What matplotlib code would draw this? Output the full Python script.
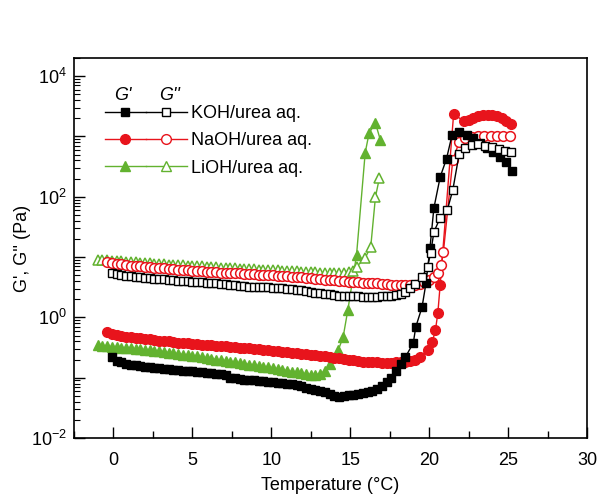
import matplotlib
matplotlib.use('Agg')
import matplotlib.pyplot as plt
from matplotlib.lines import Line2D
from matplotlib.legend_handler import HandlerTuple
from matplotlib.ticker import LogLocator, NullFormatter

plt.rcParams['font.family'] = ['Liberation Sans', 'DejaVu Sans']
plt.rcParams['mathtext.fontset'] = 'custom'
plt.rcParams['mathtext.rm'] = 'Liberation Sans'
plt.rcParams['mathtext.it'] = 'Liberation Sans:italic'

# temperature grid of the slow scan part (deg C), shared by all series
temp_scan = [-1.0, -0.7, -0.4, -0.1, 0.2, 0.5, 0.8, 1.1, 1.4, 1.7, 2.0, 2.3, 2.6, 2.9,
             3.2, 3.5, 3.8, 4.1, 4.4, 4.7, 5.0, 5.3, 5.6, 5.9, 6.2, 6.5, 6.8, 7.1,
             7.4, 7.7, 8.0, 8.3, 8.6, 8.9, 9.2, 9.5, 9.8, 10.1, 10.4, 10.7, 11.0,
             11.3, 11.6, 11.9, 12.2, 12.5, 12.8, 13.1, 13.4, 13.7, 14.0, 14.3, 14.6,
             14.9, 15.2, 15.5, 15.8, 16.1, 16.4, 16.7, 17.0, 17.3, 17.6, 17.9, 18.2,
             18.5, 18.8, 19.1, 19.4, 19.7, 20.0]

# KOH/urea
koh_g1_flat = [0.22, 0.19, 0.18, 0.17, 0.165, 0.16, 0.155, 0.15, 0.15,
               0.145, 0.145, 0.14, 0.14, 0.135, 0.135, 0.13,
               0.13, 0.13, 0.125, 0.125, 0.12, 0.12, 0.115,
               0.115, 0.11, 0.10, 0.098, 0.095, 0.093, 0.091,
               0.09, 0.088, 0.087, 0.085, 0.084, 0.082, 0.081,
               0.08, 0.079, 0.077, 0.072, 0.068, 0.066, 0.063,
               0.06, 0.057, 0.054, 0.05, 0.047, 0.049, 0.051,
               0.052, 0.053, 0.055, 0.057, 0.06, 0.065, 0.072,
               0.085, 0.10, 0.13, 0.17, 0.22]
koh_g1_rise_t = [19.0, 19.15, 19.55, 19.8, 20.05, 20.3, 20.7, 21.1, 21.45, 21.9,
                 22.4, 22.75, 23.2, 23.65, 24.05, 24.5, 24.9, 25.25]
koh_g1_rise = [0.38, 0.69, 1.48, 3.7, 14, 65, 213, 427, 1050, 1170,
               1050, 960, 780, 650, 550, 460, 380, 270]

koh_g2_flat = [5.5, 5.2, 5.0, 4.9, 4.8, 4.7, 4.6, 4.55, 4.5,
               4.4, 4.35, 4.3, 4.2, 4.1, 4.05, 4.0,
               3.95, 3.9, 3.85, 3.8, 3.75, 3.7, 3.65,
               3.6, 3.55, 3.5, 3.4, 3.35, 3.3, 3.25,
               3.2, 3.2, 3.15, 3.15, 3.1, 3.1, 3.05,
               3.0, 2.95, 2.9, 2.8, 2.7, 2.6, 2.55,
               2.5, 2.45, 2.4, 2.35, 2.3, 2.3, 2.3,
               2.25, 2.25, 2.2, 2.2, 2.2, 2.2, 2.25,
               2.25, 2.3, 2.35, 2.45]
koh_g2_rise_t = [18.5, 18.8, 19.1, 19.55, 19.9, 20.1, 20.3, 20.7, 21.15, 21.5,
                 21.9, 22.3, 22.7, 23.1, 23.55, 24.0, 24.4, 24.8, 25.2]
koh_g2_rise = [2.64, 3.1, 3.6, 4.7, 6.9, 11.8, 26, 45, 60, 130,
               510, 650, 730, 760, 690, 670, 620, 570, 550]

# NaOH/urea
naoh_g1_flat = [0.57, 0.53, 0.51, 0.49, 0.48, 0.47,
                0.46, 0.45, 0.44, 0.43, 0.42, 0.41, 0.405,
                0.40, 0.39, 0.38, 0.375, 0.37, 0.365, 0.36,
                0.355, 0.35, 0.345, 0.34, 0.335, 0.33, 0.325,
                0.32, 0.315, 0.31, 0.305, 0.30, 0.295, 0.29,
                0.285, 0.28, 0.275, 0.27, 0.265, 0.26, 0.255,
                0.25, 0.245, 0.24, 0.235, 0.23, 0.225, 0.22,
                0.215, 0.21, 0.205, 0.2, 0.195, 0.19, 0.185,
                0.183, 0.18, 0.18, 0.178, 0.178, 0.178, 0.18,
                0.18, 0.185, 0.19, 0.2, 0.22]
naoh_g1_rise_t = [19.9, 20.2, 20.4, 20.55, 20.7, 21.55, 22.2, 22.5, 22.8, 23.1,
                  23.4, 23.7, 24.0, 24.3, 24.6, 24.9, 25.2]
naoh_g1_rise = [0.29, 0.39, 0.62, 1.17, 3.5, 2340, 1800, 1900, 2050, 2150,
                2250, 2280, 2250, 2150, 2000, 1800, 1600]

naoh_g2_flat = [8.3, 8.0, 7.8, 7.6, 7.4, 7.25, 7.1,
                7.0, 6.9, 6.8, 6.7, 6.6, 6.5, 6.4,
                6.3, 6.2, 6.1, 6.0, 5.95, 5.9, 5.8,
                5.75, 5.7, 5.6, 5.55, 5.5, 5.45, 5.4,
                5.35, 5.3, 5.25, 5.2, 5.1, 5.05, 5.0,
                4.95, 4.9, 4.85, 4.8, 4.7, 4.65, 4.6,
                4.55, 4.5, 4.4, 4.3, 4.2, 4.15, 4.1,
                4.0, 3.95, 3.9, 3.85, 3.8, 3.75, 3.7,
                3.7, 3.65, 3.6, 3.55, 3.5, 3.5, 3.5,
                3.45, 3.45, 3.5, 3.6, 3.8, 4.1]
naoh_g2_rise_t = [20.3, 20.55, 20.75, 20.9, 21.5, 21.9, 22.3, 22.7, 23.1, 23.5,
                  23.9, 24.3, 24.7, 25.1]
naoh_g2_rise = [4.7, 5.5, 7.4, 12, 410, 800, 960, 990, 1000, 1000,
                1000, 1000, 1000, 1000]

# LiOH/urea
lioh_g1_flat = [0.35, 0.34, 0.33, 0.325, 0.32, 0.315, 0.31,
                0.305, 0.3, 0.295, 0.29, 0.285, 0.28, 0.275,
                0.27, 0.26, 0.255, 0.25, 0.24, 0.235, 0.23,
                0.225, 0.22, 0.21, 0.205, 0.2, 0.195, 0.19,
                0.185, 0.18, 0.175, 0.17, 0.165, 0.16, 0.155,
                0.152, 0.148, 0.145, 0.14, 0.135, 0.13, 0.126,
                0.122, 0.118, 0.115, 0.113, 0.112, 0.115, 0.13]
lioh_g1_rise_t = [13.75, 14.25, 14.55, 14.85, 15.4, 15.95, 16.2, 16.6, 16.9]
lioh_g1_rise = [0.17, 0.29, 0.47, 1.33, 10.8, 540, 1150, 1660, 890]

lioh_g2_flat = [9.0, 8.9, 8.8, 8.7, 8.6, 8.5, 8.4,
                8.3, 8.2, 8.1, 8.0, 7.9, 7.8, 7.7,
                7.6, 7.5, 7.45, 7.4, 7.3, 7.2, 7.15,
                7.1, 7.0, 6.9, 6.85, 6.8, 6.7, 6.6,
                6.55, 6.5, 6.45, 6.4, 6.3, 6.25, 6.2,
                6.15, 6.1, 6.05, 6.0, 5.95, 5.9, 5.85,
                5.8, 5.75, 5.7, 5.65, 5.6, 5.55, 5.5,
                5.5, 5.5, 5.5, 5.55, 5.6]
lioh_g2_rise_t = [15.2, 15.4, 15.95, 16.3, 16.6, 16.85]
lioh_g2_rise = [5.8, 6.9, 9.7, 14.8, 100, 205]

black = 'black'
red = '#e8141c'
green = '#62b22f'

sq_ms = 6
ci_ms = 7
tr_ms = 7.5


def series(start, flat, rise_t, rise):
    i0 = temp_scan.index(start)
    t = temp_scan[i0:i0 + len(flat)] + rise_t
    return t, flat + rise


fig = plt.figure(figsize=(5.98, 4.96), dpi=100)
ax = fig.add_axes([0.1237, 0.1169, 0.8579, 0.7662])

# LiOH
t, v = series(-1.0, lioh_g1_flat, lioh_g1_rise_t, lioh_g1_rise)
ax.plot(t, v, color=green, lw=1, marker='^', ms=tr_ms, mfc=green, mec=green)
t, v = series(-1.0, lioh_g2_flat, lioh_g2_rise_t, lioh_g2_rise)
ax.plot(t, v, color=green, lw=1, marker='^', ms=tr_ms, mfc='white', mec=green, mew=1.1)
# NaOH
t, v = series(-0.4, naoh_g1_flat, naoh_g1_rise_t, naoh_g1_rise)
ax.plot(t, v, color=red, lw=1, marker='o', ms=ci_ms, mfc=red, mec=red)
t, v = series(-0.4, naoh_g2_flat, naoh_g2_rise_t, naoh_g2_rise)
ax.plot(t, v, color=red, lw=1, marker='o', ms=ci_ms, mfc='white', mec=red, mew=1.1)
# KOH
t, v = series(-0.1, koh_g1_flat, koh_g1_rise_t, koh_g1_rise)
ax.plot(t, v, color=black, lw=1, marker='s', ms=sq_ms, mfc=black, mec=black)
t, v = series(-0.1, koh_g2_flat, koh_g2_rise_t, koh_g2_rise)
ax.plot(t, v, color=black, lw=1, marker='s', ms=sq_ms, mfc='white', mec=black, mew=1.0)

ax.set_yscale('log')
ax.set_xlim(-2.5, 30)
ax.set_ylim(1e-2, 2e4)

ax.set_xticks([0, 5, 10, 15, 20, 25, 30])
ax.set_xticks([-2.5, 2.5, 7.5, 12.5, 17.5, 22.5, 27.5], minor=True)
ax.set_yticks([1e-2, 1e-1, 1e0, 1e1, 1e2, 1e3, 1e4])
ax.set_yticklabels(['$10^{-2}$', '', '$10^{0}$', '', '$10^{2}$', '', '$10^{4}$'])
ax.yaxis.set_minor_locator(LogLocator(base=10, subs=range(2, 10), numticks=20))
ax.yaxis.set_minor_formatter(NullFormatter())

ax.tick_params(which='both', direction='in', top=False, right=False, labelsize=13)
ax.tick_params(axis='x', which='major', length=8, width=1, pad=10)
ax.tick_params(axis='x', which='minor', length=5, width=1)
ax.tick_params(axis='y', which='major', length=8, width=1, pad=5)
ax.tick_params(axis='y', which='minor', length=4, width=0.8)
for s in ax.spines.values():
    s.set_linewidth(1.2)

ax.set_xlabel('Temperature (°C)', fontsize=13, labelpad=6)
ax.set_ylabel("G', G'' (Pa)", fontsize=13, labelpad=0)

handles = [
    (Line2D([], [], color=black, lw=1, marker='s', ms=sq_ms, mfc=black, mec=black),
     Line2D([], [], color=black, lw=1, marker='s', ms=sq_ms, mfc='white', mec=black)),
    (Line2D([], [], color=red, lw=1, marker='o', ms=ci_ms, mfc=red, mec=red),
     Line2D([], [], color=red, lw=1, marker='o', ms=ci_ms, mfc='white', mec=red)),
    (Line2D([], [], color=green, lw=1, marker='^', ms=tr_ms, mfc=green, mec=green),
     Line2D([], [], color=green, lw=1, marker='^', ms=tr_ms, mfc='white', mec=green)),
]
labels = ['KOH/urea aq.', 'NaOH/urea aq.', 'LiOH/urea aq.']
ax.legend(handles, labels, handler_map={tuple: HandlerTuple(ndivide=None, pad=0)},
          loc='upper left', bbox_to_anchor=(0.06, 0.876), frameon=False,
          borderpad=0, borderaxespad=0, handlelength=4.55, handletextpad=0.2,
          labelspacing=0.57, numpoints=1, fontsize=13)
ax.text(0.0955, 0.902, "G'", transform=ax.transAxes, fontsize=13, fontstyle='italic',
        ha='center', va='center')
ax.text(0.187, 0.902, "G''", transform=ax.transAxes, fontsize=13, fontstyle='italic',
        ha='center', va='center')

fig.savefig('out.png', dpi=100)
